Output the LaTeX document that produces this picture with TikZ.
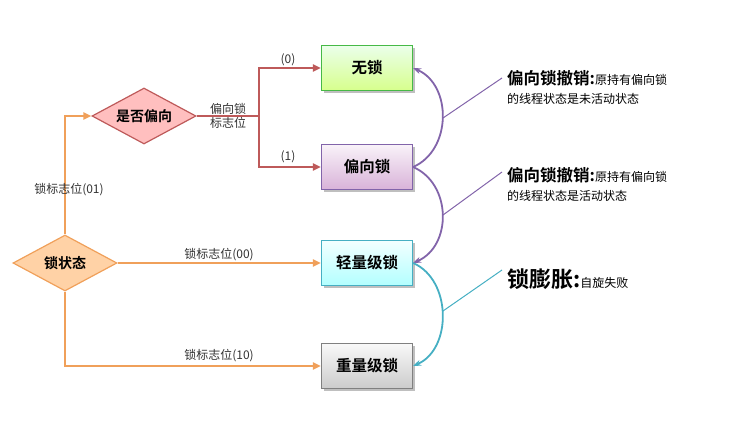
\documentclass[tikz,border=0pt]{standalone}
\usepackage{fontspec}
\setmainfont{Noto Sans CJK SC}
\newfontfamily\cjkb{Noto Sans CJK SC Bold}
\usetikzlibrary{shapes.geometric,arrows.meta,shadows}
\definecolor{org}{RGB}{240,160,90}
\definecolor{redl}{RGB}{190,90,90}
\definecolor{purl}{RGB}{130,100,170}
\definecolor{teal1}{RGB}{70,175,195}
\tikzset{
 box/.style={draw,line width=1.3pt,minimum width=91pt,minimum height=45pt,font=\cjkb\fontsize{15.5}{15.5}\selectfont,drop shadow},
 dia/.style={diamond,draw,line width=1.2pt,aspect=1.85,inner sep=1pt,font=\cjkb\fontsize{14}{14}\selectfont},
 lbl/.style={font=\fontsize{12}{14.5}\selectfont,text=black!80},
 oa/.style={org,line width=2.2pt,-{Triangle[length=8pt,width=7pt]}},
 ra/.style={redl,line width=2.2pt,-{Triangle[length=8pt,width=7pt]}},
}
\begin{document}
\begin{tikzpicture}[x=1pt,y=-1pt]
\useasboundingbox (0,0) rectangle (737,426);
\node[box,draw=green!45!gray,top color=green!8!white,bottom color=green!35!yellow!45] (n0) at (367,68) {无锁};
\node[box,draw=purl,top color=violet!5,bottom color=violet!30] (n1) at (367,167) {偏向锁};
\node[box,draw=teal1,top color=cyan!5,bottom color=cyan!30] (n2) at (367,263) {轻量级锁};
\node[box,draw=gray,top color=gray!5,bottom color=gray!40] (n3) at (367,366) {重量级锁};
\node[dia,draw=redl,fill=red!25,minimum width=104pt,minimum height=56pt] (d1) at (144,116) {是否偏向};
\node[dia,draw=org,fill=orange!35,minimum width=104pt,minimum height=56pt] (d0) at (65,263) {锁状态};
\coordinate (j) at (259,116);
\draw[oa] (d0.north) |- (d1.west);
\draw[oa] (d0.east) -- (n2.west);
\draw[oa] (d0.south) |- (n3.west);
\draw[redl,line width=2.2pt] (d1.east) -- (j);
\draw[ra] (j) |- (n0.west);
\draw[ra] (j) |- (n1.west);
\node[lbl] (l01) at (69,190) {锁标志位(01)};
\node[lbl] (l00) at (219,255) {锁标志位(00)};
\node[lbl] (l10) at (219,356) {锁标志位(10)};
\node[lbl,align=left] (lb) at (228,116) {偏向锁\\标志位};
\node[lbl] (lz) at (288,60) {(0)};
\node[lbl] (lo) at (288,157) {(1)};
\draw[purl,line width=1.8pt,-{Stealth[length=8pt]}] (n1.east) .. controls (452,150) and (452,85) .. (n0.east);
\draw[purl,line width=1.8pt,-{Stealth[length=8pt]}] (n1.east) .. controls (452,184) and (452,246) .. (n2.east);
\draw[teal1,line width=1.8pt,-{Stealth[length=8pt]}] (n2.east) .. controls (452,280) and (452,349) .. (n3.east);
\coordinate (c1) at (443,118); \coordinate (c2) at (443,215); \coordinate (c3) at (443,311);
\node[anchor=west,align=left,inner sep=0pt,font=\fontsize{12}{19}\selectfont] (t1) at (507,87) {{\cjkb\fontsize{16.5}{16.5}\selectfont 偏向锁撤销:}原持有偏向锁\\的线程状态是未活动状态};
\node[anchor=west,align=left,inner sep=0pt,font=\fontsize{12}{19}\selectfont] (t2) at (507,184) {{\cjkb\fontsize{16.5}{16.5}\selectfont 偏向锁撤销:}原持有偏向锁\\的线程状态是活动状态};
\node[anchor=west,inner sep=0pt,font=\fontsize{12}{17}\selectfont] (t3) at (507,279) {{\cjkb\fontsize{22}{22}\selectfont 锁膨胀:}自旋失败};
\draw[purl,line width=1pt] (c1) -- (502,78);
\draw[purl,line width=1pt] (c2) -- (502,172);
\draw[teal1,line width=1pt] (c3) -- (502,270);
\end{tikzpicture}
\end{document}
